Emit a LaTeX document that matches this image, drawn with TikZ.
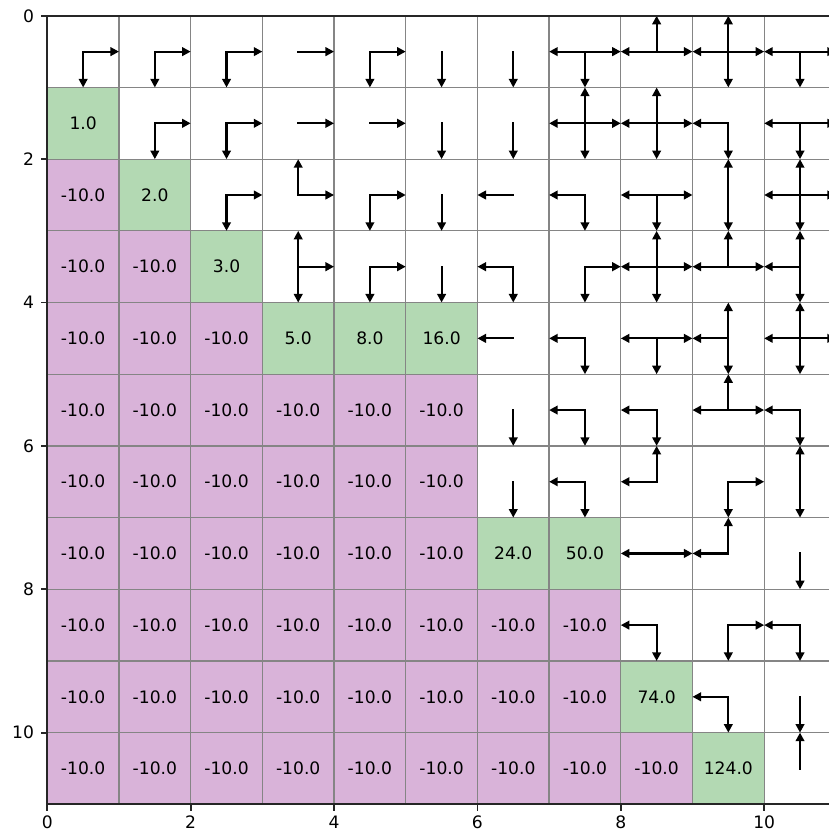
\documentclass[tikz,border=0pt]{standalone}
\usepackage{fontspec}
\setmainfont{DejaVu Sans}
\usetikzlibrary{arrows.meta}
\definecolor{cellgreen}{HTML}{B3D9B3}
\definecolor{cellpink}{HTML}{D9B3D9}
\definecolor{gridgray}{HTML}{858585}
\definecolor{spinegray}{HTML}{262626}
\tikzset{
  celltext/.style={inner sep=0pt, font=\fontsize{6.8}{7.5}\selectfont},
  ticklabel/.style={inner sep=0pt, font=\fontsize{6.8}{7.5}\selectfont},
  gridline/.style={draw=gridgray, line width=0.5pt},
  spine/.style={draw=spinegray, line width=0.9pt},
  tickmark/.style={draw=spinegray, line width=0.7pt},
  policy/.style={draw=black, line width=0.85pt, line cap=rect,
    -{Triangle[length=3.4pt,width=3.4pt]}}
}
\begin{document}
\begin{tikzpicture}[x=1cm,y=-1cm]
\useasboundingbox (-0.66,-0.22) rectangle (10.9,11.40);
% pink cells
\foreach \r/\n in {2/0,3/1,4/2,5/5,6/5,7/5,8/7,9/7,10/8}{
  \foreach \c in {0,...,\n}{
    \fill[cellpink] (\c,\r) rectangle ++(1,1);
    \node[celltext] (v-\r-\c) at (\c+0.5,\r+0.5) {-10.0};
  }
}
% green cells
\foreach \r/\c/\v in {1/0/1.0,2/1/2.0,3/2/3.0,4/3/5.0,4/4/8.0,4/5/16.0,7/6/24.0,7/7/50.0,9/8/74.0,10/9/124.0}{
  \fill[cellgreen] (\c,\r) rectangle ++(1,1);
  \node[celltext] (v-\r-\c) at (\c+0.5,\r+0.5) {\v};
}
% grid
\foreach \k in {1,...,10}{
  \draw[gridline] (\k,0) -- (\k,11);
  \draw[gridline] (0,\k) -- (11,\k);
}
% policy arrows
\foreach \r/\c in {0/0,0/1,0/2,0/3,0/4,0/7,0/8,0/9,0/10,1/1,1/2,1/3,1/4,1/7,1/8,1/10,2/2,2/3,2/4,2/8,2/10,3/3,3/4,3/7,3/8,3/9,4/8,4/10,5/9,6/9,7/8,8/9}
  \draw[policy] (\c+0.5,\r+0.5) -- ++(0.5,0);
\foreach \r/\c in {0/7,0/8,0/9,0/10,1/7,1/8,1/9,1/10,2/6,2/7,2/8,2/10,3/6,3/8,3/9,3/10,4/6,4/7,4/8,4/9,4/10,5/7,5/8,5/9,5/10,6/7,6/8,7/8,7/9,8/8,8/10,9/9}
  \draw[policy] (\c+0.5,\r+0.5) -- ++(-0.5,0);
\foreach \r/\c in {0/8,0/9,1/7,1/8,2/3,2/9,2/10,3/3,3/8,3/9,3/10,4/9,4/10,5/9,6/8,6/10,7/9,10/10}
  \draw[policy] (\c+0.5,\r+0.5) -- ++(0,-0.5);
\foreach \r/\c in {0/0,0/1,0/2,0/4,0/5,0/6,0/7,0/9,0/10,1/1,1/2,1/5,1/6,1/7,1/8,1/9,1/10,2/2,2/4,2/5,2/7,2/8,2/9,2/10,3/3,3/4,3/5,3/6,3/7,3/8,3/10,4/7,4/8,4/9,4/10,5/6,5/7,5/8,5/10,6/6,6/7,6/9,6/10,7/10,8/8,8/9,8/10,9/9,9/10}
  \draw[policy] (\c+0.5,\r+0.5) -- ++(0,0.5);
% spines
\draw[spine] (0,0) -- (0,11);
\draw[spine] (0,0) -- (11,0);
\draw[spine] (0,11) -- (11,11);
% ticks
\foreach \t in {0,2,4,6,8,10}{
  \draw[tickmark] (\t,11) -- (\t,11.09);
  \node[ticklabel, anchor=north] (xt-\t) at (\t,11.15) {\t};
  \draw[tickmark] (0,\t) -- (-0.09,\t);
  \node[ticklabel, anchor=east] (yt-\t) at (-0.18,\t) {\t};
}
\end{tikzpicture}
\end{document}
